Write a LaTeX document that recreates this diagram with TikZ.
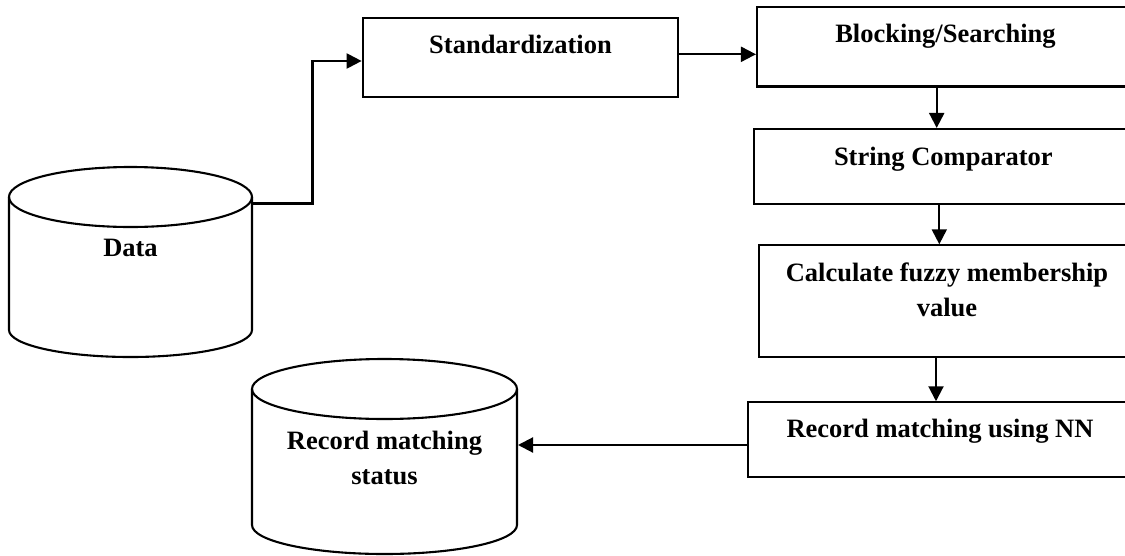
\documentclass[tikz,border=0pt]{standalone}
\usepackage{fontspec}
\setmainfont{Liberation Serif}
\usetikzlibrary{arrows.meta}
\begin{document}
\begin{tikzpicture}[x=1pt,y=-1pt,
  stroke/.style={line width=2.1pt},
  procbox/.style={stroke, draw, rectangle, inner sep=0pt},
  lbl/.style={font=\fontsize{26.5}{35}\selectfont\bfseries, align=center, inner sep=0pt},
  arr/.style={stroke, -{Triangle[length=15pt,width=15pt]}}]
\useasboundingbox (0,0) rectangle (1125,555);
\clip (0,0) rectangle (1125,555);

% process boxes (right edges run off the page)
\node[procbox, minimum width=315pt, minimum height=78.4pt]  (std) at (520.2,57.5) {};
\node[procbox, minimum width=378pt, minimum height=79.5pt]  (blk) at (946,46.75) {};
\node[procbox, minimum width=381pt, minimum height=75pt]    (cmp) at (944.5,166.5) {};
\node[procbox, minimum width=375.7pt, minimum height=111.4pt] (fuz) at (947.2,301) {};
\node[procbox, minimum width=387.3pt, minimum height=75pt]  (rmn) at (941.4,439.8) {};

% box captions
\node[lbl, anchor=base] (stdt) at (520.5,53.3) {Standardization};
\node[lbl, anchor=base] (blkt) at (945.5,42.7) {Blocking/Searching};
\node[lbl, anchor=base] (cmpt) at (943.3,165.7) {String Comparator};
\node[lbl, anchor=center] (fuzt) at (947,290) {Calculate fuzzy membership\\value};
\node[lbl, anchor=base] (rmnt) at (940,437.3) {Record matching using NN};

% data store: input
\draw[stroke] (130.5,197) ellipse [x radius=121.5pt, y radius=30pt];
\draw[stroke] (9,197) -- (9,330) arc[start angle=180, end angle=360, x radius=121.5pt, y radius=27pt] -- (252,197);
\node[lbl, anchor=base] (data) at (130.5,256) {Data};
\coordinate (dataout) at (252,203.5);

% data store: output
\draw[stroke] (384.5,389) ellipse [x radius=132.5pt, y radius=30pt];
\draw[stroke] (252,389) -- (252,525) arc[start angle=180, end angle=360, x radius=132.5pt, y radius=29pt] -- (517,389);
\node[lbl, anchor=center] (rms) at (384.5,458) {Record matching\\status};
\coordinate (rmsin) at (518,445);

% flow
\draw[arr] (dataout) -- (312.5,203.5) |- (std.west |- 0,61);
\draw[arr] (std.east |- 0,54.3) -- (blk.west |- 0,54.3);
\draw[arr] (blk.south -| 936.7,0) -- (cmp.north -| 936.7,0);
\draw[arr] (cmp.south -| 939.3,0) -- (fuz.north -| 939.3,0);
\draw[arr] (fuz.south -| 936,0) -- (rmn.north -| 936,0);
\draw[arr] (rmn.west |- 0,445) -- (rmsin);
\end{tikzpicture}
\end{document}
